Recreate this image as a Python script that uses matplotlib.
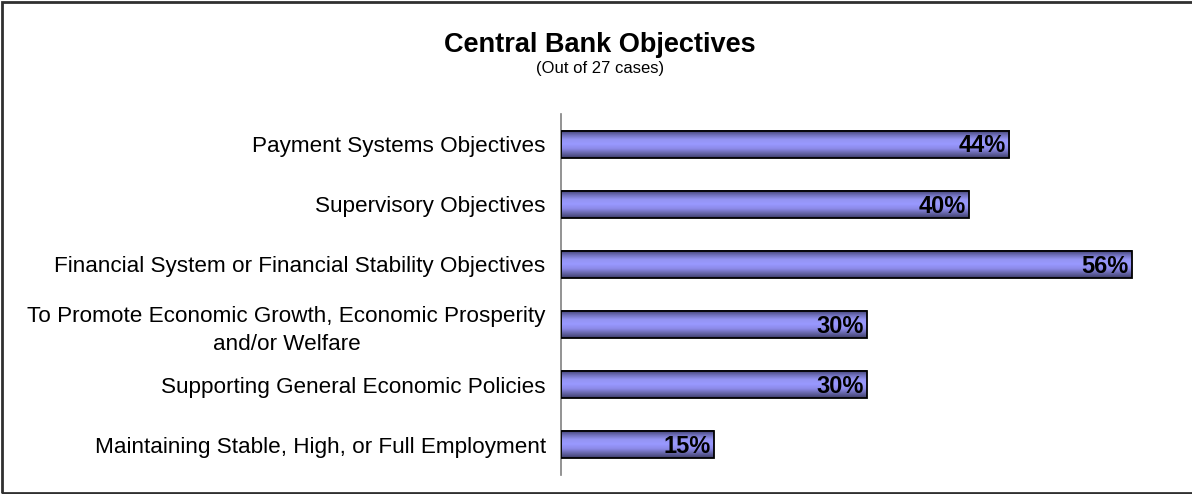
import numpy as np
import matplotlib.pyplot as plt
from matplotlib.colors import LinearSegmentedColormap
from matplotlib.patches import Rectangle

plt.rcParams['font.family'] = ['Liberation Sans', 'DejaVu Sans']

categories = [
    "Payment Systems Objectives",
    "Supervisory Objectives",
    "Financial System or Financial Stability Objectives",
    "To Promote Economic Growth, Economic Prosperity\nand/or Welfare",
    "Supporting General Economic Policies",
    "Maintaining Stable, High, or Full Employment",
]
values = [44, 40, 56, 30, 30, 15]
value_labels = ["44%", "40%", "56%", "30%", "30%", "15%"]

# shaded bar fill: dark edges, light middle
bar_cmap = LinearSegmentedColormap.from_list(
    "barshade", ["#3c3c6a", "#6e6eb8", "#9494f2", "#9999ff", "#8c8ae8", "#6666a8", "#3e3e6c"])
grad = np.linspace(0, 1, 64).reshape(-1, 1)

fig = plt.figure(figsize=(11.92, 4.94), dpi=100)
ax = fig.add_axes([0.4706, 0.0385, 0.513, 0.7305])

bar_h = 0.45
for i, (v, lab) in enumerate(zip(values, value_labels)):
    ax.imshow(grad, extent=(0, v, i + bar_h / 2, i - bar_h / 2), aspect='auto',
              cmap=bar_cmap, origin='upper', zorder=2, interpolation='bilinear')
    ax.add_patch(Rectangle((0, i - bar_h / 2), v, bar_h, fill=False,
                           edgecolor='black', linewidth=1.3, zorder=3))
    ax.text(v - 0.3, i + 0.03, lab, ha='right', va='center', fontsize=17,
            fontweight='bold', color='black', zorder=4)

ax.set_xlim(0, 60)
ax.set_ylim(5.5, -0.5)
ax.set_yticks(range(len(categories)))
ax.set_yticklabels(categories, fontsize=16.2, multialignment='center', linespacing=1.45)
ax.tick_params(axis='y', length=0, pad=11)
ax.set_xticks([])
for side in ['top', 'right', 'bottom']:
    ax.spines[side].set_visible(False)
ax.spines['left'].set_color('#808080')
ax.spines['left'].set_linewidth(1.2)

fig.text(0.5034, 0.908, "Central Bank Objectives", ha='center', va='center',
         fontsize=19.5, fontweight='bold')
fig.text(0.5034, 0.861, "(Out of 27 cases)", ha='center', va='center', fontsize=12)

# outer frame of the chart area
fig.patches.append(Rectangle((2 / 1192, 1 / 494), 1.2, 491 / 494, transform=fig.transFigure,
                             fill=False, edgecolor='#303030', linewidth=2))

fig.savefig("out.png", dpi=100)
